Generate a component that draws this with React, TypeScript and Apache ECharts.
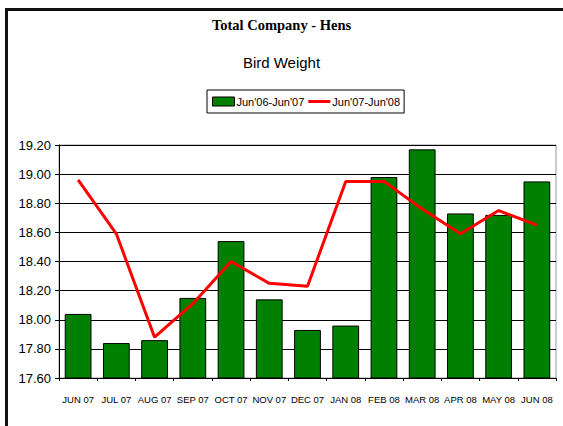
import React, { useEffect, useRef } from "react";
import * as echarts from "echarts";

const categories = ["JUN 07", "JUL 07", "AUG 07", "SEP 07", "OCT 07", "NOV 07", "DEC 07", "JAN 08", "FEB 08", "MAR 08", "APR 08", "MAY 08", "JUN 08"];
const prevYear = [18.04, 17.84, 17.86, 18.15, 18.54, 18.14, 17.93, 17.96, 18.98, 19.17, 18.73, 18.72, 18.95];
const currYear = [18.96, 18.59, 17.88, 18.11, 18.40, 18.25, 18.23, 18.95, 18.95, 18.76, 18.59, 18.75, 18.65];
const seriesNames = ["Jun'06-Jun'07", "Jun'07-Jun'08"];

export default function App() {
  const ref = useRef<HTMLDivElement>(null);
  useEffect(() => {
    const chart = echarts.init(ref.current!, undefined, { renderer: "svg" });
    const sans = "'Liberation Sans', Arial, sans-serif";
    chart.setOption({
      animation: false,
      backgroundColor: "#fff",
      title: [
        {
          text: "Total Company - Hens",
          left: "center",
          top: 12,
          textStyle: { fontFamily: "'Liberation Serif', 'Times New Roman', serif", fontWeight: "bold", fontSize: 14.5, color: "#000" },
        },
        {
          text: "Bird Weight",
          left: "center",
          top: 50,
          textStyle: { fontFamily: sans, fontWeight: "normal", fontSize: 15, color: "#000" },
        },
      ],
      legend: {
        top: 90,
        left: 207,
        borderColor: "#000",
        borderWidth: 1,
        padding: [6, 4, 6, 5],
        itemGap: 4,
        itemWidth: 22,
        itemHeight: 9,
        textStyle: { fontFamily: sans, fontSize: 11, color: "#000", padding: [0, 0, 0, -3] },
        data: [
          { name: seriesNames[0], icon: "rect", itemStyle: { borderColor: "#000", borderWidth: 1 } },
          { name: seriesNames[1], icon: "path://M0,0H22V3H0Z", itemStyle: { color: "#ff0000" } },
        ],
      },
      grid: { left: 59, right: 7, top: 145, bottom: 48, show: true, borderColor: "#999", borderWidth: 1 },
      xAxis: {
        type: "category",
        data: categories,
        axisLine: { lineStyle: { color: "#000", width: 1 } },
        axisTick: { show: true, interval: 0, length: 3, lineStyle: { color: "#000" } },
        axisLabel: { interval: 0, fontFamily: sans, fontSize: 9.5, color: "#000", margin: 16 },
      },
      yAxis: {
        type: "value",
        min: 17.6,
        max: 19.2,
        interval: 0.2,
        axisLine: { show: true, lineStyle: { color: "#000", width: 1 } },
        axisTick: { show: true, length: 4, lineStyle: { color: "#000" } },
        splitLine: { lineStyle: { color: "#000", width: 1 } },
        axisLabel: { fontFamily: sans, fontSize: 13, color: "#000", margin: 8, formatter: (v: number) => v.toFixed(2) },
      },
      series: [
        {
          name: seriesNames[0],
          type: "bar",
          data: prevYear,
          barCategoryGap: "30%",
          itemStyle: { color: "#008000", borderColor: "#000", borderWidth: 1 },
        },
        {
          name: seriesNames[1],
          type: "line",
          data: currYear,
          symbol: "none",
          lineStyle: { color: "#ff0000", width: 3 },
          itemStyle: { color: "#ff0000" },
        },
      ],
      graphic: [
        { type: "rect", shape: { x: 5, y: 8, width: 560, height: 3 }, style: { fill: "#111" } },
        { type: "rect", shape: { x: 5, y: 8, width: 3, height: 420 }, style: { fill: "#111" } },
      ],
    });
    return () => chart.dispose();
  }, []);
  return <div ref={ref} style={{ position: "fixed", left: 0, top: 0, width: 563, height: 426 }} />;
}
